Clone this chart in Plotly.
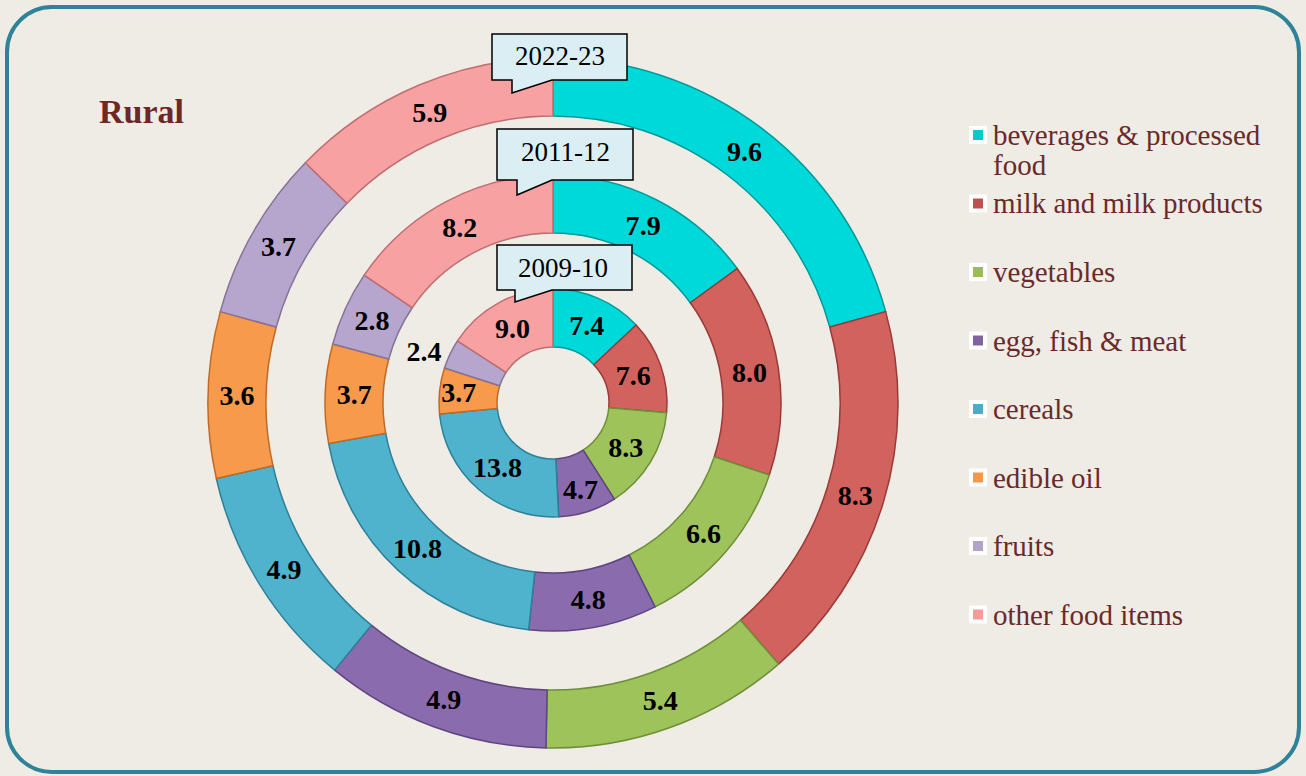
import textwrap
import plotly.graph_objects as go

W, H = 1306, 776

# ---------------- data ----------------
categories = ["beverages & processed food", "milk and milk products", "vegetables",
              "egg, fish & meat", "cereals", "edible oil", "fruits", "other food items"]
years = ["2022-23", "2011-12", "2009-10"]
share_2022_23 = [9.6, 8.3, 5.4, 4.9, 4.9, 3.6, 3.7, 5.9]
share_2011_12 = [7.9, 8.0, 6.6, 4.8, 10.8, 3.7, 2.8, 8.2]
share_2009_10 = [7.4, 7.6, 8.3, 4.7, 13.8, 3.7, 2.4, 9.0]
series = [share_2022_23, share_2011_12, share_2009_10]
chart_title = "Rural"

# ---------------- styles ----------------
slice_colors = ["#00D9D9", "#D2625E", "#9DC35A", "#8A6BAE", "#4FB3CE", "#F89A4C", "#B6A5CC", "#F7A1A3"]
edge_colors = ["#009A9A", "#9A3A37", "#6E8E38", "#5E4580", "#2E8098", "#C06A26", "#857399", "#C06E70"]
legend_colors = ["#00CCCC", "#C0504D", "#9BBB59", "#8064A2", "#4BACC6", "#F79646", "#B3A2C7", "#FF9999"]
bg_color = "#EFEBE5"
brown = "#6B2A2A"
frame_color = "#2F8399"

cx, cy = 553, 403
rings = [(345, 287), (228, 170), (114, 56)]  # (outer radius, inner radius) px
# callout box: x0, y0, x1, y1, tail_x, tail_tip_y, tail_right_x, text_x, text_y
callouts = [
    (492, 34, 627, 80, 512, 93, 552, 560, 56),
    (497, 129, 633, 180, 517, 195, 552, 565, 152),
    (497, 245, 632, 290, 515, 302, 552, 563, 268),
]


def px(x):
    return x / W


def py(y):
    return 1 - y / H


fig = go.Figure()

for i, (vals, (ro, ri)) in enumerate(zip(series, rings)):
    positions = ["inside"] * len(vals)
    if i == 2:
        positions[categories.index("fruits")] = "outside"
    fig.add_trace(go.Pie(
        labels=categories,
        values=vals,
        name=years[i],
        sort=False,
        direction="clockwise",
        rotation=0,
        hole=ri / ro,
        domain=dict(x=[px(cx - ro), px(cx + ro)], y=[py(cy + ro), py(cy - ro)]),
        marker=dict(colors=slice_colors, line=dict(color=edge_colors, width=1.5)),
        texttemplate="%{value:.1f}",
        textposition=positions,
        insidetextorientation="horizontal",
        textfont=dict(family="Liberation Serif", size=29, color="black", weight="bold"),
        outsidetextfont=dict(family="Liberation Serif", size=29, color="black", weight="bold"),
        showlegend=False,
        hoverinfo="label+value",
    ))

shapes = []
annotations = []

# outer rounded frame
x0, y0, x1, y1, r = 7, 7, 1299, 772, 45
k = 0.5523 * r


def P(x, y):
    return f"{px(x):.5f},{py(y):.5f}"


frame_path = (
    f"M {P(x0 + r, y0)} L {P(x1 - r, y0)} "
    f"C {P(x1 - r + k, y0)} {P(x1, y0 + r - k)} {P(x1, y0 + r)} "
    f"L {P(x1, y1 - r)} "
    f"C {P(x1, y1 - r + k)} {P(x1 - r + k, y1)} {P(x1 - r, y1)} "
    f"L {P(x0 + r, y1)} "
    f"C {P(x0 + r - k, y1)} {P(x0, y1 - r + k)} {P(x0, y1 - r)} "
    f"L {P(x0, y0 + r)} "
    f"C {P(x0, y0 + r - k)} {P(x0 + r - k, y0)} {P(x0 + r, y0)} Z"
)
shapes.append(dict(type="path", xref="paper", yref="paper", path=frame_path,
                   line=dict(color=frame_color, width=4), fillcolor="rgba(0,0,0,0)",
                   layer="above"))

# year callouts
for yr, (bx0, by0, bx1, by1, tx, tip, trx, txx, txy) in zip(years, callouts):
    path = (f"M {P(bx0, by0)} L {P(bx1, by0)} L {P(bx1, by1)} L {P(trx, by1)} "
            f"L {P(tx, tip)} L {P(tx, by1)} L {P(bx0, by1)} Z")
    shapes.append(dict(type="path", xref="paper", yref="paper", path=path,
                       line=dict(color="black", width=1.5), fillcolor="#DAEEF3",
                       layer="above"))
    annotations.append(dict(x=px(txx), y=py(txy), xref="paper", yref="paper",
                            text=yr, showarrow=False, xanchor="center", yanchor="middle",
                            font=dict(family="Liberation Serif", size=27, color="black")))

# title
annotations.append(dict(x=px(97), y=py(112), xref="paper", yref="paper", text=chart_title,
                        showarrow=False, xanchor="left", yanchor="middle",
                        font=dict(family="Liberation Serif", size=34, color="#6E2626",
                                  weight="bold")))

# manual legend
leg_x_box, leg_x_text, leg_y0, leg_dy, line_h = 969, 991, 135, 68.5, 30
for j, (cat, col) in enumerate(zip(categories, legend_colors)):
    yc = leg_y0 + j * leg_dy
    shapes.append(dict(type="rect", xref="paper", yref="paper",
                       x0=px(leg_x_box), x1=px(leg_x_box + 18), y0=py(yc + 9), y1=py(yc - 9),
                       fillcolor="white", line=dict(width=0), layer="above"))
    shapes.append(dict(type="rect", xref="paper", yref="paper",
                       x0=px(leg_x_box + 4), x1=px(leg_x_box + 14), y0=py(yc + 5), y1=py(yc - 5),
                       fillcolor=col, line=dict(width=0), layer="above"))
    for li, line in enumerate(textwrap.wrap(cat, 23)):
        annotations.append(dict(x=px(leg_x_text), y=py(yc + li * line_h), xref="paper",
                                yref="paper", text=line, showarrow=False,
                                xanchor="left", yanchor="middle",
                                font=dict(family="Liberation Serif", size=29, color=brown)))

fig.update_layout(
    width=W, height=H,
    margin=dict(l=0, r=0, t=0, b=0),
    paper_bgcolor=bg_color,
    plot_bgcolor=bg_color,
    shapes=shapes,
    annotations=annotations,
    showlegend=False,
    uniformtext=dict(minsize=28, mode="show"),
)

fig.write_html("out.html",
               config={"displayModeBar": False},
               post_script="document.body.style.margin='0';document.body.style.padding='0';")
